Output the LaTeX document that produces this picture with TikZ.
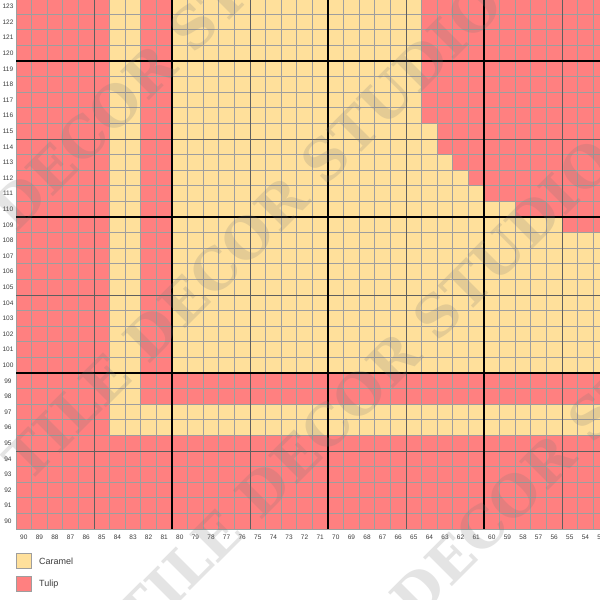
\documentclass[tikz,border=0pt]{standalone}
\usepackage{fontspec}
\setmainfont{Liberation Sans}
\newfontfamily\wmfont{DejaVu Serif}
\definecolor{caramel}{RGB}{255,224,155}
\definecolor{tulip}{RGB}{255,128,128}
\definecolor{thinline}{RGB}{158,158,158}
\definecolor{midline}{RGB}{95,95,95}
\definecolor{labelgray}{RGB}{60,60,60}
\definecolor{wmgray}{RGB}{120,120,120}
\newcommand\cellblock[5]{\fill[#5] ({16+#1*15.6},{529-#3*15.6}) rectangle ({16+(#2+1)*15.6},{529-(#4+1)*15.6});}
\tikzset{
  gridthin/.style={draw=thinline, line width=0.9pt},
  gridmid/.style={draw=midline, line width=1pt},
  gridthick/.style={draw=black, line width=1.8pt},
  rowlab/.style={font=\fontsize{6.5}{7}\selectfont, text=labelgray, inner sep=0pt},
  collab/.style={font=\fontsize{6.5}{7}\selectfont, text=labelgray, inner sep=0pt},
  legbox/.style={draw=thinline, line width=0.8pt, minimum width=15pt, minimum height=15pt, inner sep=0pt},
  legtext/.style={font=\fontsize{9}{10}\selectfont, text=labelgray, anchor=west, inner sep=0pt},
  wm/.style={rotate=45, text=wmgray, text opacity=0.2, inner sep=0pt,
    font=\wmfont\bfseries\fontsize{56}{60}\selectfont}
}
\begin{document}
\begin{tikzpicture}[x=1pt,y=-1pt]
\useasboundingbox (0,0) rectangle (600,600);
\fill[white] (0,0) rectangle (600,600);
\begin{scope}
\clip (0,0) rectangle (600,600);
% base colour
\cellblock{0}{37}{0}{34}{tulip}
% caramel regions (i = 90 - column, j = row - 90)
\cellblock{6}{37}{6}{7}{caramel}
\cellblock{6}{7}{8}{34}{caramel}
\cellblock{10}{37}{10}{18}{caramel}
\cellblock{10}{34}{19}{19}{caramel}
\cellblock{10}{31}{20}{20}{caramel}
\cellblock{10}{29}{21}{21}{caramel}
\cellblock{10}{28}{22}{22}{caramel}
\cellblock{10}{27}{23}{23}{caramel}
\cellblock{10}{26}{24}{25}{caramel}
\cellblock{10}{25}{26}{34}{caramel}
% grid lines
\foreach \k in {0,...,38} \draw[gridthin] ({16+\k*15.6},529) -- ({16+\k*15.6},-5);
\foreach \k in {0,...,34} \draw[gridthin] (16,{529-\k*15.6}) -- (612,{529-\k*15.6});
\foreach \k in {5,15,25,35} \draw[gridmid] ({16+\k*15.6},529) -- ({16+\k*15.6},-5);
\foreach \k in {5,15,25} \draw[gridmid] (16,{529-\k*15.6}) -- (612,{529-\k*15.6});
\foreach \k in {10,20,30} \draw[gridthick] ({16+\k*15.6},529) -- ({16+\k*15.6},-5);
\foreach \k in {10,20,30} \draw[gridthick] (16,{529-\k*15.6}) -- (612,{529-\k*15.6});
% row labels
\foreach \j [count=\r from 90] in {0,...,33}
  \node[rowlab] (r\r) at (8,{529-(\j+0.5)*15.6}) {\r};
% column labels
\foreach \c [count=\i from 0] in {90,89,...,53}
  \node[collab] (c\c) at ({16+(\i+0.5)*15.6},537) {\c};
% legend
\node[legbox, fill=caramel] (k1) at (23.5,560.5) {};
\node[legtext] (t1) at (39,561) {Caramel};
\node[legbox, fill=tulip] (k2) at (23.5,584) {};
\node[legtext] (t2) at (39,584.5) {Tulip};
% watermark
\foreach \cx/\cy/\n in {121/100/0, 253/232/1, 365/388/2, 520/490/3}
  \node[wm] (wm\n) at (\cx,\cy) {TILE DECOR STUDIO};
\end{scope}
\end{tikzpicture}
\end{document}
